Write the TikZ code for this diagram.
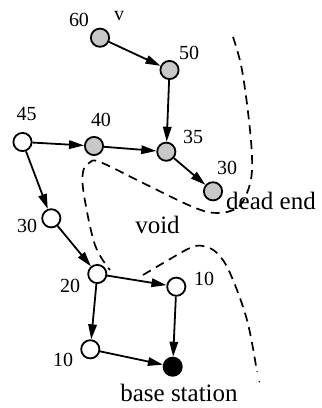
\documentclass[tikz,border=0pt]{standalone}
\usepackage{fontspec}
\setmainfont{Liberation Serif}
\usetikzlibrary{arrows.meta}
\definecolor{nodegray}{RGB}{200,200,200}
\begin{document}
\begin{tikzpicture}[x=1pt,y=-1pt,
  sensor/.style={circle,draw=black,line width=1.8pt,minimum size=18.2pt,inner sep=0pt},
  grayv/.style={sensor,fill=nodegray},
  whitev/.style={sensor,fill=white},
  basev/.style={sensor,fill=black},
  num/.style={inner sep=0pt,font=\fontsize{20}{24}\selectfont},
  word/.style={inner sep=0pt,font=\fontsize{25}{30}\selectfont},
  link/.style={line width=1.8pt,-{Triangle[length=15pt,width=8.5pt]}},
  border/.style={line width=1.7pt,dash pattern=on 9pt off 6pt}]
\useasboundingbox (0,0) rectangle (322,408);
% vertices
\node[grayv] (n60) at (100,37.7) {};
\node[grayv] (n50) at (169.5,70) {};
\node[whitev] (n45) at (22.5,142) {};
\node[grayv] (n40) at (94,146) {};
\node[grayv] (n35) at (166.3,151.7) {};
\node[grayv] (n30g) at (213,191.3) {};
\node[whitev] (n30w) at (51.3,218.3) {};
\node[whitev] (n20) at (97.3,274) {};
\node[whitev] (n10r) at (176.3,286.7) {};
\node[whitev] (n10b) at (90.3,349.3) {};
\node[basev] (bs) at (172.7,366.7) {};
% labels
\node[num] (l60) at (79,19.5) {60};
\node[num] (lv) at (119,16.3) {v};
\node[num] (l50) at (189,53) {50};
\node[num] (l45) at (26.5,114) {45};
\node[num] (l40) at (101,120) {40};
\node[num] (l35) at (193,136.5) {35};
\node[num] (l30g) at (227,168) {30};
\node[num] (l30w) at (27,226) {30};
\node[num] (l20) at (70,286) {20};
\node[num] (l10r) at (204,279) {10};
\node[num] (l10b) at (63,360) {10};
\node[word,anchor=base] (ldead) at (271,209) {dead end};
\node[word,anchor=base] (lvoid) at (157.5,233) {void};
\node[word,anchor=base] (lbs) at (179,401.7) {base station};
% routes
\draw[link] (n60) -- (n50);
\draw[link] (n50) -- (n35);
\draw[link] (n45) -- (n40);
\draw[link] (n40) -- (n35);
\draw[link] (n35) -- (n30g);
\draw[link] (n45) -- (n30w);
\draw[link] (n30w) -- (n20);
\draw[link] (n20) -- (n10r);
\draw[link] (n20) -- (n10b);
\draw[link] (n10r) -- (bs);
\draw[link] (n10b) -- (bs);
% void boundaries
\draw[border] plot[smooth,tension=0.6] coordinates {(233,37) (242,70) (250,130) (252,170) (247,193) (237,208) (217,213) (193,207) (143,183) (100,162) (89,163) (83,172) (84,195) (95,245) (110,270)};
\draw[border] plot[smooth,tension=0.6] coordinates {(143,275) (165,262) (190,248) (203,246) (217,253) (230,273) (247,320) (257,372)};
\fill (259.3,381.7) circle (0.8pt);
\end{tikzpicture}
\end{document}
